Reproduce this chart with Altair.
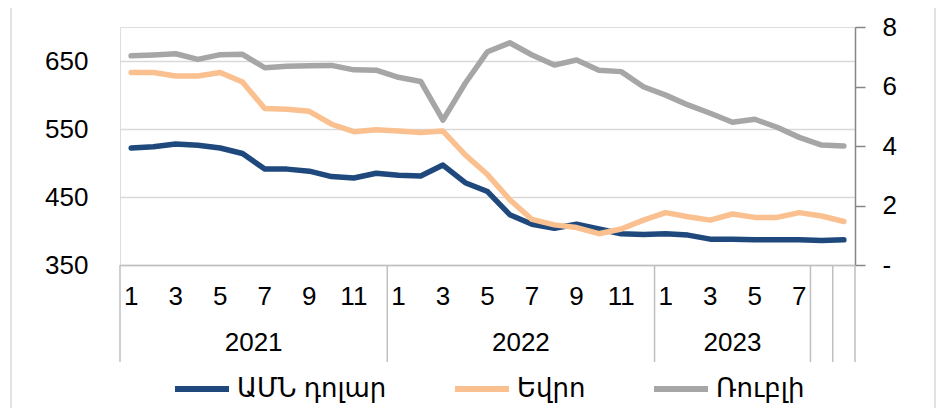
import altair as alt
import pandas as pd

# ---- data -------------------------------------------------------------
series_names = ["ԱՄՆ դոլար", "Եվրո", "Ռուբլի"]
series_colors = ["#1F497D", "#FAC090", "#A6A6A6"]

month_index = list(range(33))          # Jan 2021 .. Sep 2023
usd = [522, 524, 528, 526, 522, 514, 491, 491, 488, 480, 478, 485,
       482, 481, 497, 471, 458, 424, 410, 404, 410, 403, 396, 395,
       396, 394, 388, 388, 387, 387, 387, 386, 387]
eur = [633, 633, 628, 628, 633, 619, 580, 579, 576, 557, 546, 549,
       547, 545, 547, 512, 483, 446, 417, 409, 405, 396, 403, 416,
       427, 421, 416, 425, 420, 420, 427, 422, 414]
rub = [7.03, 7.06, 7.10, 6.91, 7.07, 7.08, 6.63, 6.68, 6.70, 6.71, 6.56, 6.55,
       6.31, 6.17, 4.87, 6.11, 7.17, 7.47, 7.06, 6.72, 6.89, 6.55, 6.50, 5.99,
       5.71, 5.38, 5.10, 4.80, 4.90, 4.63, 4.29, 4.03, 4.00]

month_tick_pos = [0, 2, 4, 6, 8, 10, 12, 14, 16, 18, 20, 22, 24, 26, 28, 30]
month_tick_labels = ["1", "3", "5", "7", "9", "11", "1", "3", "5", "7", "9", "11",
                     "1", "3", "5", "7"]
year_labels = ["2021", "2022", "2023"]
year_centers = [5.5, 17.5, 27.0]
group_bounds = [-0.5, 11.5, 23.5, 30.5, 31.5, 32.5]

left_ticks = [350, 450, 550, 650]
right_ticks = [0, 2, 4, 6, 8]

# ---- tables -----------------------------------------------------------
df_usd = pd.DataFrame({"idx": month_index, "v": usd, "series": series_names[0]})
df_eur = pd.DataFrame({"idx": month_index, "v": eur, "series": series_names[1]})
df_rub = pd.DataFrame({"idx": month_index, "v": rub, "series": series_names[2]})
df_years = pd.DataFrame({"idx": year_centers, "label": year_labels})
df_bounds = pd.DataFrame({"idx": group_bounds})
df_mlabels = pd.DataFrame({"idx": month_tick_pos, "label": month_tick_labels})

FONT = "Liberation Sans, DejaVu Sans"
FS = 26
W, H = 735, 238

xscale = alt.Scale(domain=[-0.5, 32.5], nice=False, zero=False)
xaxis = alt.Axis(values=month_tick_pos, labels=False, title=None,
                 ticks=False, grid=False, domain=True, domainColor="#BFBFBF",
                 domainWidth=1.5)
X = alt.X("idx:Q", scale=xscale, axis=xaxis)

color = alt.Color(
    "series:N",
    scale=alt.Scale(domain=series_names, range=series_colors),
    legend=alt.Legend(orient="none", legendX=52, legendY=332, direction="horizontal",
                      symbolType="stroke", symbolSize=2916, symbolStrokeWidth=6,
                      labelFont=FONT, labelFontSize=FS, labelColor="#000000",
                      labelOffset=5, columnPadding=56, labelLimit=400, title=None),
)

left_scale = alt.Scale(domain=[350, 700], nice=False, zero=False)
left_axis = alt.Axis(values=left_ticks, title=None, grid=True, gridColor="#D9D9D9",
                     gridWidth=1.5, domain=False, ticks=False, labelFont=FONT,
                     labelFontSize=FS, labelColor="#000000", labelPadding=32)


def line(df):
    return alt.Chart(df).mark_line(strokeWidth=5.5, strokeCap="round", strokeJoin="round").encode(
        x=X,
        y=alt.Y("v:Q", scale=left_scale, axis=left_axis),
        color=color,
    )


left = alt.layer(line(df_usd), line(df_eur))

right = alt.Chart(df_rub).mark_line(strokeWidth=5.5, strokeCap="round", strokeJoin="round").encode(
    x=X,
    y=alt.Y("v:Q", scale=alt.Scale(domain=[0, 8], nice=False),
            axis=alt.Axis(orient="right", values=right_ticks, title=None, grid=False,
                          labelExpr="datum.value == 0 ? '-' : datum.value",
                          domain=True, domainColor="#868686", domainWidth=1.5,
                          ticks=True, tickSize=10, tickColor="#868686", tickWidth=1.5,
                          labelAlign="left", labelPadding=17, labelFont=FONT,
                          labelFontSize=FS, labelColor="#000000")),
    color=color,
)

seps = alt.Chart(df_bounds).mark_rule(color="#BFBFBF", strokeWidth=1.5).encode(
    x=X,
    y=alt.value(H),
    y2=alt.value(H + 97),
)

months = alt.Chart(df_mlabels).mark_text(font=FONT, fontSize=FS, color="#000000",
                                         baseline="middle", align="center").encode(
    x=X,
    y=alt.value(270),
    text="label:N",
)

years = alt.Chart(df_years).mark_text(font=FONT, fontSize=FS, color="#000000",
                                      baseline="middle", align="center").encode(
    x=X,
    y=alt.value(316),
    text="label:N",
)

border = alt.Chart(pd.DataFrame({"k": [0]})).mark_rule(color="#D9D9D9", strokeWidth=1.5).encode(
    x=alt.value(-109), y=alt.value(-40), y2=alt.value(400)
)
border2 = alt.Chart(pd.DataFrame({"k": [0]})).mark_rule(color="#D9D9D9", strokeWidth=1.5).encode(
    x=alt.value(815), y=alt.value(-40), y2=alt.value(400)
)

chart = alt.layer(left, right, seps, months, years, border, border2).resolve_scale(
    y="independent"
).properties(
    width=W, height=H,
    autosize=alt.AutoSizeParams(type="none"),
    padding={"left": 112, "top": 19, "right": 83, "bottom": 143},
).configure_view(stroke=None).configure(background="#FFFFFF")

chart.save("out.html", embed_options={"renderer": "svg", "actions": False})
